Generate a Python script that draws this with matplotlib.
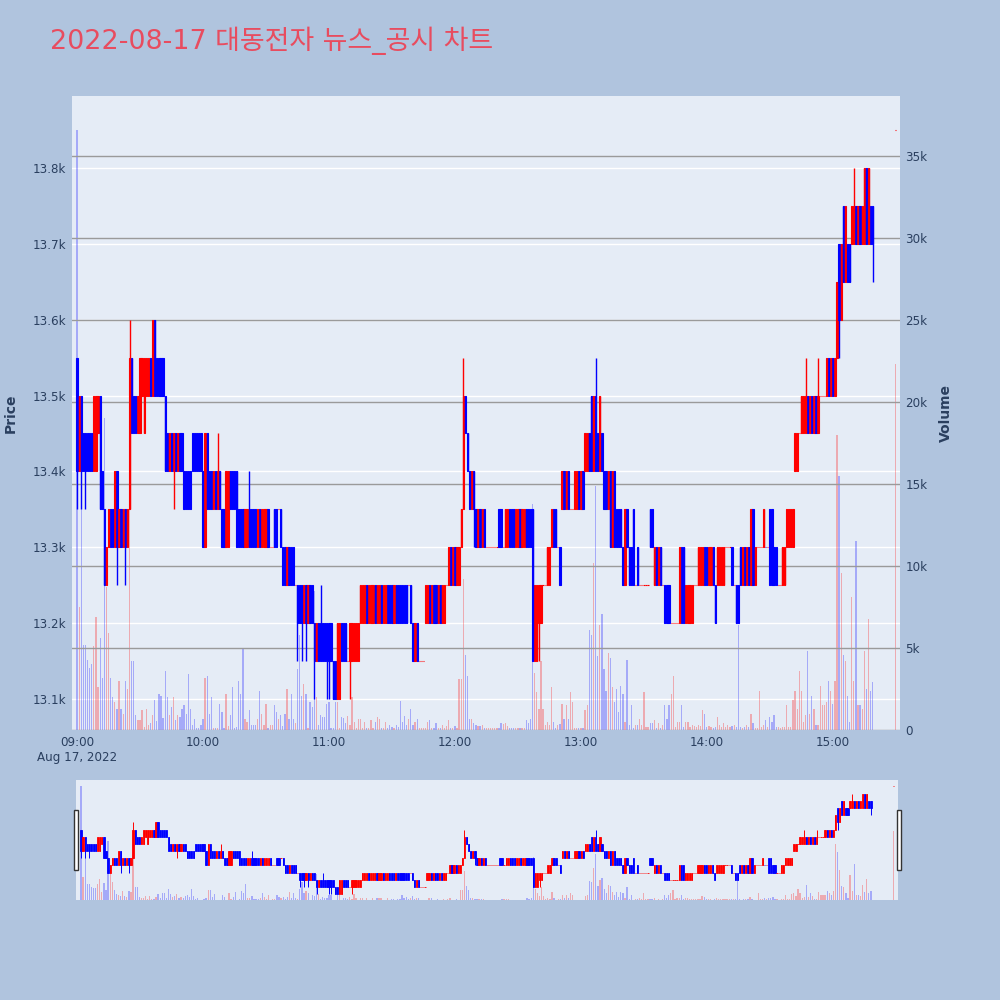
import numpy as np
import matplotlib.pyplot as plt
from matplotlib.ticker import FuncFormatter
from matplotlib.patches import Rectangle

plt.rcParams['font.family'] = ['DejaVu Sans', 'Noto Sans CJK KR']

title = "2022-08-17 대동전자 뉴스_공시 차트"

# 1-minute candles, one list per hour (09:00 ... 15:19)
open_09 = [13550, 13400, 13500, 13450, 13450, 13450, 13450, 13450, 13400, 13400,
           13450, 13500, 13400, 13350, 13250, 13300, 13350, 13350, 13300, 13400,
           13300, 13350, 13300, 13350, 13300, 13350, 13550, 13500, 13500, 13450,
           13450, 13500, 13450, 13500, 13500, 13550, 13500, 13600, 13550, 13550,
           13550, 13550, 13500, 13450, 13400, 13450, 13400, 13450, 13400, 13450,
           13450, 13400, 13400, 13400, 13400, 13450, 13450, 13450, 13450, 13450]
close_09 = [13400, 13500, 13400, 13400, 13400, 13400, 13400, 13400, 13500, 13500,
            13500, 13350, 13350, 13250, 13300, 13350, 13300, 13300, 13400, 13300,
            13350, 13300, 13350, 13300, 13350, 13550, 13450, 13450, 13450, 13500,
            13550, 13550, 13550, 13550, 13550, 13500, 13600, 13500, 13500, 13500,
            13500, 13500, 13400, 13400, 13450, 13400, 13450, 13400, 13450, 13400,
            13400, 13350, 13350, 13350, 13350, 13400, 13400, 13400, 13400, 13400]

open_10 = [13400, 13300, 13450, 13400, 13400, 13350, 13400, 13350, 13400, 13350,
           13350, 13300, 13300, 13400, 13400, 13400, 13400, 13350, 13350, 13350,
           13300, 13300, 13350, 13350, 13350, 13350, 13300, 13350, 13300, 13300,
           13300, 13350, 13300, 13300, 13350, 13350, 13350, 13350, 13300, 13300,
           13250, 13300, 13300, 13300, 13250, 13250, 13250, 13250, 13200, 13250,
           13200, 13250, 13250, 13200, 13150, 13200, 13200, 13200, 13200, 13200]
close_10 = [13300, 13450, 13350, 13350, 13350, 13400, 13350, 13400, 13350, 13300,
            13300, 13400, 13400, 13350, 13350, 13350, 13300, 13300, 13300, 13300,
            13350, 13350, 13300, 13300, 13300, 13300, 13350, 13300, 13350, 13350,
            13350, 13300, 13300, 13300, 13300, 13300, 13350, 13300, 13250, 13250,
            13300, 13250, 13250, 13250, 13250, 13200, 13200, 13200, 13250, 13200,
            13250, 13200, 13200, 13150, 13200, 13150, 13150, 13150, 13150, 13150]

open_11 = [13200, 13200, 13150, 13150, 13100, 13100, 13200, 13200, 13200, 13150,
           13150, 13150, 13150, 13150, 13150, 13200, 13200, 13200, 13250, 13200,
           13200, 13200, 13250, 13200, 13200, 13250, 13200, 13200, 13250, 13250,
           13250, 13200, 13250, 13250, 13250, 13250, 13250, 13250, 13250, 13250,
           13200, 13150, 13200, 13150, 13150, 13150, 13200, 13200, 13250, 13200,
           13250, 13250, 13200, 13250, 13200, 13200, 13250, 13250, 13300, 13250]
close_11 = [13150, 13150, 13100, 13100, 13200, 13200, 13150, 13150, 13150, 13150,
            13200, 13200, 13200, 13200, 13200, 13250, 13250, 13250, 13200, 13250,
            13250, 13250, 13200, 13250, 13250, 13200, 13250, 13250, 13200, 13200,
            13200, 13250, 13200, 13200, 13200, 13200, 13200, 13200, 13250, 13200,
            13150, 13200, 13150, 13150, 13150, 13150, 13250, 13250, 13200, 13250,
            13200, 13200, 13250, 13200, 13250, 13250, 13250, 13300, 13250, 13300]

open_12 = [13300, 13250, 13250, 13300, 13350, 13500, 13450, 13400, 13350, 13400,
           13350, 13300, 13350, 13300, 13350, 13300, 13300, 13300, 13300, 13300,
           13300, 13350, 13350, 13300, 13300, 13300, 13350, 13350, 13350, 13300,
           13300, 13350, 13300, 13300, 13350, 13350, 13350, 13350, 13150, 13150,
           13200, 13200, 13250, 13250, 13250, 13250, 13300, 13350, 13350, 13300,
           13300, 13350, 13400, 13350, 13400, 13350, 13350, 13350, 13350, 13400]
close_12 = [13250, 13300, 13300, 13350, 13500, 13450, 13400, 13350, 13400, 13350,
            13300, 13350, 13300, 13350, 13300, 13300, 13300, 13300, 13300, 13300,
            13300, 13300, 13300, 13300, 13350, 13350, 13300, 13300, 13300, 13350,
            13350, 13300, 13350, 13350, 13300, 13300, 13300, 13150, 13250, 13250,
            13250, 13250, 13250, 13250, 13300, 13300, 13350, 13300, 13300, 13300,
            13250, 13400, 13350, 13400, 13350, 13350, 13350, 13400, 13400, 13350]

open_13 = [13350, 13400, 13400, 13400, 13450, 13500, 13400, 13500, 13450, 13400,
           13450, 13400, 13400, 13350, 13400, 13300, 13400, 13350, 13350, 13350,
           13300, 13250, 13350, 13300, 13300, 13350, 13250, 13300, 13250, 13250,
           13250, 13250, 13250, 13350, 13350, 13250, 13300, 13250, 13300, 13250,
           13250, 13250, 13250, 13200, 13200, 13200, 13200, 13200, 13300, 13300,
           13200, 13200, 13200, 13200, 13250, 13250, 13250, 13250, 13250, 13300]
close_13 = [13400, 13350, 13450, 13450, 13400, 13400, 13500, 13400, 13400, 13500,
            13400, 13350, 13350, 13400, 13300, 13400, 13300, 13300, 13300, 13300,
            13250, 13350, 13300, 13250, 13250, 13250, 13250, 13250, 13250, 13250,
            13250, 13250, 13250, 13300, 13300, 13300, 13250, 13300, 13250, 13250,
            13200, 13200, 13200, 13200, 13200, 13200, 13200, 13300, 13200, 13200,
            13250, 13250, 13250, 13250, 13250, 13250, 13300, 13300, 13300, 13250]

open_14 = [13300, 13250, 13250, 13300, 13250, 13250, 13250, 13250, 13250, 13300,
           13300, 13300, 13300, 13250, 13250, 13250, 13300, 13250, 13300, 13250,
           13300, 13250, 13350, 13250, 13300, 13300, 13300, 13300, 13300, 13300,
           13350, 13350, 13300, 13300, 13250, 13250, 13250, 13250, 13300, 13300,
           13300, 13300, 13400, 13400, 13450, 13450, 13450, 13450, 13500, 13450,
           13500, 13450, 13500, 13450, 13500, 13500, 13500, 13500, 13550, 13500]
close_14 = [13250, 13300, 13300, 13250, 13200, 13300, 13300, 13300, 13300, 13300,
            13300, 13300, 13250, 13250, 13200, 13200, 13250, 13300, 13250, 13300,
            13250, 13350, 13250, 13300, 13300, 13300, 13300, 13350, 13300, 13300,
            13250, 13250, 13250, 13250, 13250, 13250, 13300, 13300, 13350, 13350,
            13350, 13350, 13450, 13450, 13450, 13500, 13500, 13500, 13450, 13500,
            13450, 13500, 13450, 13500, 13500, 13500, 13500, 13550, 13500, 13550]

open_15 = [13550, 13500, 13550, 13700, 13600, 13750, 13650, 13700, 13700, 13700,
           13700, 13750, 13700, 13750, 13700, 13700, 13800, 13700, 13750, 13750]
close_15 = [13500, 13550, 13650, 13600, 13700, 13650, 13750, 13650, 13650, 13750,
            13750, 13700, 13750, 13700, 13750, 13800, 13700, 13800, 13700, 13700]

# closing auction at 15:30
auction_time = "15:30"
auction_price = 13850
auction_volume = 22300

# wicks beyond the body (minute index -> price)
high_wicks = {25: 13600, 67: 13450, 82: 13400, 116: 13250, 184: 13550,
              247: 13550, 347: 13550, 353: 13550, 370: 13800}
low_wicks = {0: 13350, 2: 13350, 4: 13350, 19: 13250, 23: 13250, 46: 13350,
             105: 13150, 107: 13150, 109: 13150, 113: 13100, 119: 13100,
             120: 13100, 130: 13100, 189: 13300, 220: 13150, 363: 13550, 379: 13650}

# volume in thousands of shares
vol_09 = [36.6, 7.5, 19.0, 5.2, 5.2, 4.3, 3.8, 4.0, 5.1, 6.9,
          2.6, 5.6, 3.2, 19.0, 8.7, 5.9, 3.2, 2.0, 1.7, 1.3,
          3.0, 1.3, 1.0, 3.0, 2.5, 13.8, 4.2, 4.2, 0.9, 0.6,
          0.6, 1.2, 0.2, 1.3, 0.3, 0.45, 0.9, 1.8, 0.55, 2.2,
          2.1, 0.75, 3.6, 2.0, 0.9, 1.4, 2.0, 0.6, 0.9, 0.8,
          1.3, 1.5, 1.0, 3.4, 1.3, 0.3, 0.7, 0.1, 0.1, 0.3]
vol_10 = [0.7, 3.2, 3.3, 1.0, 2.0, 0.1, 0.1, 0.15, 1.6, 1.1,
          0.15, 2.2, 0.25, 0.9, 2.6, 0.15, 0.2, 3.0, 2.2, 5.0,
          0.65, 0.5, 1.2, 0.3, 0.3, 0.3, 0.65, 2.4, 1.0, 0.3,
          1.6, 0.1, 0.3, 0.3, 1.5, 1.1, 0.65, 0.9, 0.25, 1.0,
          2.5, 0.7, 2.2, 0.7, 0.45, 3.7, 5.8, 2.1, 2.8, 2.2,
          0.15, 1.7, 1.4, 8.5, 2.0, 0.3, 0.9, 0.8, 0.8, 1.6]
vol_11 = [1.7, 0.15, 0.1, 1.7, 1.7, 0.1, 0.8, 0.75, 0.4, 0.85,
          0.3, 2.0, 0.5, 0.15, 0.7, 0.7, 0.15, 0.5, 0.15, 0.15,
          0.6, 0.15, 0.5, 0.8, 0.7, 0.15, 0.15, 0.5, 0.15, 0.3,
          0.2, 0.15, 0.3, 0.2, 1.75, 0.5, 0.85, 0.3, 0.7, 1.3,
          0.3, 0.5, 0.7, 0.15, 0.15, 0.1, 0.1, 0.5, 0.6, 0.15,
          0.15, 0.4, 0.15, 0.15, 0.3, 0.15, 0.25, 0.6, 0.15, 0.15]
vol_12 = [0.25, 0.15, 3.1, 3.1, 9.2, 4.6, 3.3, 0.7, 0.7, 0.4,
          0.3, 0.25, 0.25, 0.3, 0.15, 0.1, 0.15, 0.1, 0.15, 0.1,
          0.15, 0.1, 0.4, 0.35, 0.4, 0.25, 0.1, 0.15, 0.1, 0.15,
          0.1, 0.15, 0.1, 0.15, 0.6, 0.4, 0.65, 13.8, 3.5, 2.3,
          1.3, 4.2, 1.3, 0.3, 0.5, 0.3, 2.6, 0.5, 0.15, 0.3,
          0.35, 1.6, 0.7, 1.55, 0.7, 2.3, 1.7, 0.15, 0.15, 0.1]
vol_13 = [0.15, 0.1, 1.2, 1.5, 6.1, 5.8, 10.2, 14.9, 4.5, 6.4,
          7.1, 3.7, 2.4, 4.7, 4.4, 2.6, 1.7, 2.5, 1.1, 2.7,
          2.2, 0.5, 4.3, 0.3, 1.5, 0.15, 0.3, 0.3, 0.7, 0.3,
          2.3, 0.2, 0.2, 0.4, 0.4, 0.6, 0.1, 0.4, 0.15, 0.3,
          1.5, 0.7, 1.5, 2.2, 3.3, 0.2, 0.5, 0.5, 1.5, 0.2,
          0.5, 0.5, 0.2, 0.3, 0.25, 0.2, 0.3, 0.25, 1.2, 1.0]
vol_14 = [0.2, 0.25, 0.2, 0.15, 0.2, 0.8, 0.3, 0.2, 0.4, 0.2,
          0.3, 0.2, 0.25, 0.3, 0.2, 6.4, 0.2, 0.15, 0.2, 0.3,
          0.2, 1.0, 0.45, 0.15, 0.15, 2.4, 0.2, 0.3, 0.6, 0.2,
          0.8, 0.5, 0.9, 0.2, 0.2, 0.15, 0.2, 0.2, 1.55, 0.2,
          0.2, 1.8, 2.4, 1.3, 3.6, 2.4, 0.5, 0.9, 4.8, 1.0,
          2.1, 1.3, 0.3, 0.3, 2.7, 1.55, 1.55, 1.7, 3.0, 2.4]
vol_15 = [1.6, 3.0, 18.0, 15.5, 9.6, 4.6, 4.2, 2.1, 0.5, 8.1,
          3.0, 11.5, 1.5, 1.5, 1.3, 4.8, 2.5, 6.8, 2.4, 2.9]

hour_labels = ["09:00", "10:00", "11:00", "12:00", "13:00", "14:00", "15:00"]
date_label = "Aug 17, 2022"

# ---- assemble ----
opens = np.array(open_09 + open_10 + open_11 + open_12 + open_13 + open_14 + open_15, float)
closes = np.array(close_09 + close_10 + close_11 + close_12 + close_13 + close_14 + close_15, float)
vols = np.array(vol_09 + vol_10 + vol_11 + vol_12 + vol_13 + vol_14 + vol_15) * 1000
x = np.arange(len(opens), dtype=float)

hh, mm = auction_time.split(":")
x = np.append(x, (int(hh) - 9) * 60 + int(mm))
opens = np.append(opens, auction_price)
closes = np.append(closes, auction_price)
vols = np.append(vols, auction_volume)

highs = np.maximum(opens, closes)
lows = np.minimum(opens, closes)
for k, v in high_wicks.items():
    highs[k] = v
for k, v in low_wicks.items():
    lows[k] = v

RED, BLUE = '#ff0000', '#0000ff'
colors = []
for i in range(len(opens)):
    if closes[i] > opens[i]:
        colors.append(RED)
    elif closes[i] < opens[i]:
        colors.append(BLUE)
    else:
        prev = closes[i - 1] if i > 0 else opens[i]
        colors.append(RED if closes[i] >= prev else BLUE)

PLOT_BG = '#e5ecf6'
TXT = '#2a3f5f'
XLIM = (-2.4, 392.0)
PLIM = (13059, 13895)
VLIM = (0, 38670)


def draw(axv, axc, body_w, lw, wick_lw):
    axv.bar(x, vols, width=0.6, color=colors, alpha=0.28, linewidth=0)
    axc.vlines(x, lows, highs, colors=colors, linewidth=wick_lw)
    axc.bar(x, closes - opens, bottom=opens, width=body_w, color=colors,
            edgecolor=colors, linewidth=lw)


fig = plt.figure(figsize=(10, 10), dpi=100)
fig.patch.set_facecolor('#b0c4de')

rect = [0.072, 0.270, 0.828, 0.634]
ax = fig.add_axes(rect)
ax.set_facecolor(PLOT_BG)
ax.set_xlim(*XLIM)
ax.set_ylim(*PLIM)
ax.set_yticks(np.arange(13100, 13801, 100))
ax.yaxis.set_major_formatter(FuncFormatter(lambda v, p: f'{v / 1000:.1f}k'))
ax.grid(axis='y', color='white', linewidth=1)
ax.set_axisbelow(True)
ax.set_xticks(np.arange(0, 361, 60))
ax.set_xticklabels([hour_labels[0] + "\n" + date_label] + hour_labels[1:])
ax.tick_params(length=0, labelsize=8.6, labelcolor=TXT, pad=4)
for s in ax.spines.values():
    s.set_visible(False)

axv = ax.twinx()
axv.set_ylim(*VLIM)
axv.set_yticks(np.arange(0, 35001, 5000))
axv.yaxis.set_major_formatter(FuncFormatter(lambda v, p: '0' if v == 0 else f'{int(v / 1000)}k'))
axv.grid(axis='y', color='#9a9a9a', linewidth=1)
axv.tick_params(length=0, labelsize=8.6, labelcolor=TXT, pad=4)
for s in axv.spines.values():
    s.set_visible(False)

axc = fig.add_axes(rect, sharex=ax, sharey=ax)
axc.patch.set_visible(False)
axc.axis('off')

draw(axv, axc, 0.6, 0.8, 1.0)

fig.text(0.0105, 0.587, 'Price', rotation=90, ha='center', va='center',
         fontsize=10, fontweight='bold', color=TXT)
fig.text(0.946, 0.587, 'Volume', rotation=90, ha='center', va='center',
         fontsize=10, fontweight='bold', color=TXT)
fig.text(0.050, 0.959, title, ha='left', va='center', fontsize=19.4, color='#e84c5f')

# ---- range slider ----
srect = [0.076, 0.100, 0.822, 0.120]
axs = fig.add_axes(srect)
axs.set_facecolor(PLOT_BG)
axs.set_xlim(*XLIM)
axs.set_ylim(*PLIM)
axs.set_xticks([])
axs.set_yticks([])
for s in axs.spines.values():
    s.set_visible(False)
axsv = axs.twinx()
axsv.set_ylim(*VLIM)
axsv.set_yticks([])
for s in axsv.spines.values():
    s.set_visible(False)
axsc = fig.add_axes(srect, sharex=axs, sharey=axs)
axsc.patch.set_visible(False)
axsc.axis('off')
draw(axsv, axsc, 0.6, 0.6, 0.7)

for hx in (0.0735, 0.8965):
    fig.patches.append(Rectangle((hx, 0.130), 0.004, 0.060, transform=fig.transFigure,
                                 facecolor='white', edgecolor='#333333', linewidth=1))

fig.savefig('out.png', dpi=100, facecolor=fig.get_facecolor())
